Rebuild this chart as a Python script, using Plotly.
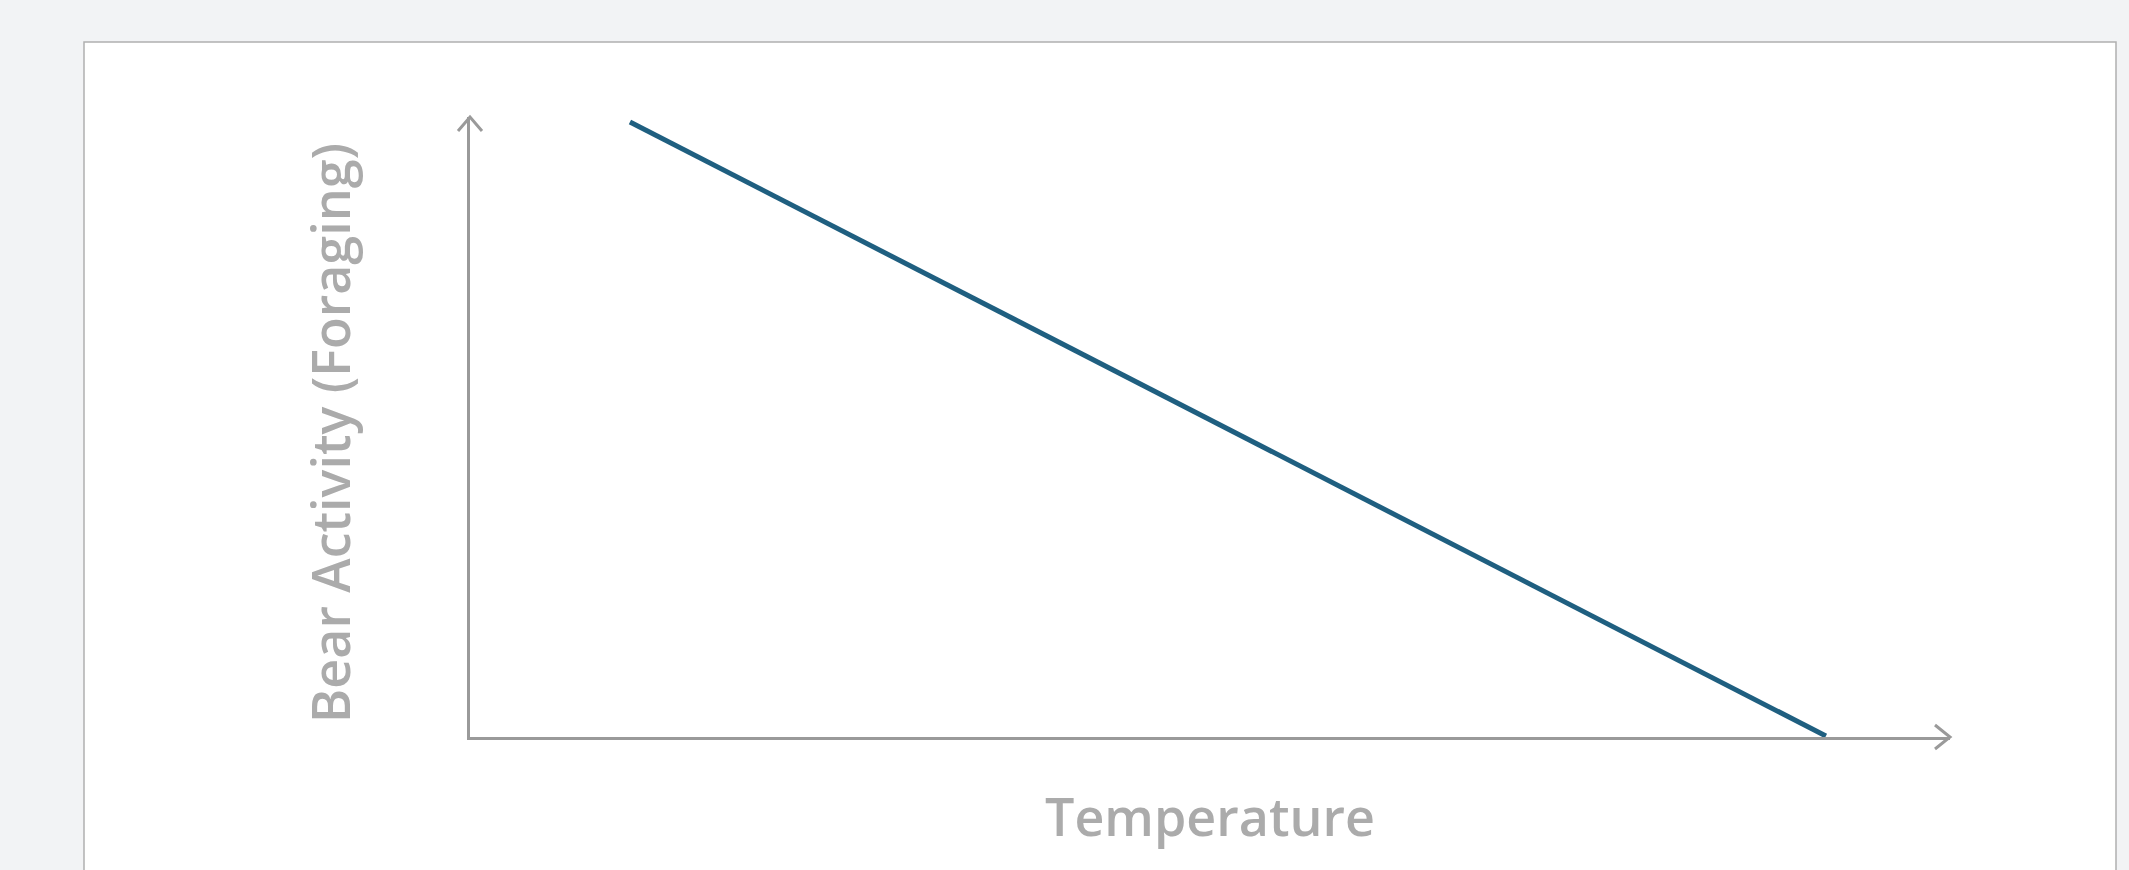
import plotly.graph_objects as go

W, H = 2129, 870

# Data: conceptual relation (temperature vs bear foraging activity)
temperature = [1, 9]
activity = [10, 0]
x_title = "Temperature"
y_title = "Bear Activity (Foraging)"

line_color = "#1f5f80"
axis_color = "#9a9a9a"
text_color = "#ababab"

# pixel geometry
ax_left, ax_right = 470, 1950
ax_bottom, ax_top = 737, 117

fig = go.Figure()
fig.add_trace(go.Scatter(x=temperature, y=activity, mode="lines",
                         line=dict(color=line_color, width=5),
                         hoverinfo="skip", showlegend=False))

# axis ranges so the line lands where it does in the reference
xr = [-0.070, 9.83]
yr = [-0.016, 10.08]

fig.update_layout(
    width=W, height=H,
    margin=dict(l=0, r=0, t=0, b=0),
    paper_bgcolor="#f2f3f5",
    plot_bgcolor="rgba(0,0,0,0)",
    xaxis=dict(domain=[ax_left / W, ax_right / W], range=xr,
               showgrid=False, zeroline=False, showticklabels=False, ticks="",
               showline=True, linecolor=axis_color, linewidth=3, fixedrange=True),
    yaxis=dict(domain=[(H - ax_bottom) / H, (H - ax_top) / H], range=yr,
               showgrid=False, zeroline=False, showticklabels=False, ticks="",
               showline=True, linecolor=axis_color, linewidth=3, fixedrange=True),
)

# card background
fig.add_shape(type="rect", xref="paper", yref="paper",
              x0=84 / W, x1=2116 / W, y0=-0.05, y1=(H - 42) / H,
              fillcolor="white", line=dict(color="#b0b0b0", width=1.5), layer="below")

# arrow heads (open chevrons), anchored at the axis ends (paper refs: not clipped)
fig.add_shape(type="path", xref="paper", yref="paper", xsizemode="pixel", ysizemode="pixel",
              xanchor=ax_right / W, yanchor=(H - ax_bottom) / H,
              path="M -15 12 L 0 0 L -15 -12",
              line=dict(color=axis_color, width=3))
fig.add_shape(type="path", xref="paper", yref="paper", xsizemode="pixel", ysizemode="pixel",
              xanchor=ax_left / W, yanchor=(H - ax_top) / H,
              path="M -12 -14 L 0 0 L 12 -14",
              line=dict(color=axis_color, width=3))

font = dict(family="Open Sans", size=52, color=text_color, weight=600)
fig.add_annotation(text=x_title, xref="paper", yref="paper",
                   x=1210 / W, y=(H - 815) / H, xanchor="center", yanchor="middle",
                   showarrow=False, font=font)
fig.add_annotation(text=y_title, xref="paper", yref="paper",
                   x=330 / W, y=(H - 433) / H, xanchor="center", yanchor="middle",
                   textangle=-90, showarrow=False, font=font)

fig.write_html("out.html",
               config={"displayModeBar": False},
               post_script="document.body.style.margin='0';"
                           "document.body.style.background='#f2f3f5';")
